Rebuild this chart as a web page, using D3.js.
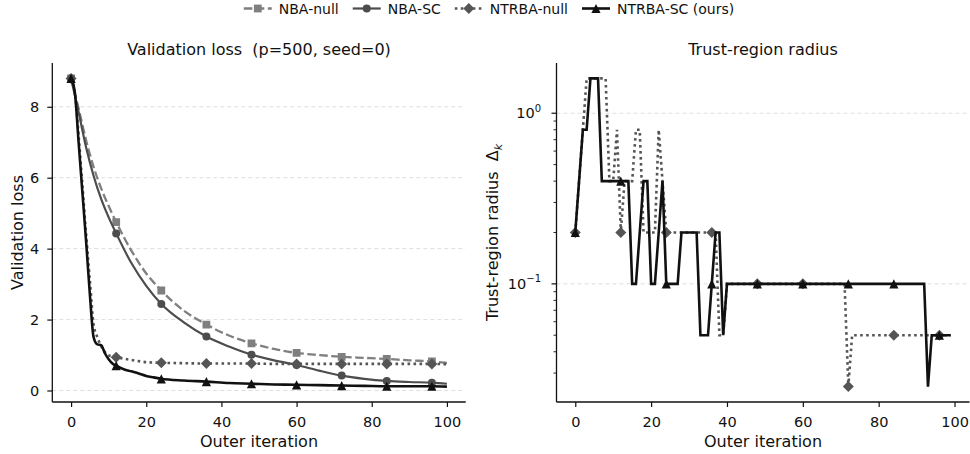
<!DOCTYPE html>
<html><head><meta charset="utf-8">
<script src="https://cdn.jsdelivr.net/npm/d3@7"></script>
<style>
html,body{margin:0;padding:0;background:#fff;}
svg{display:block;}
text{font-family:"DejaVu Sans",sans-serif;fill:#111;white-space:pre;}
</style></head>
<body><svg id="chart" width="970" height="454"></svg>
<script>
// ---------------- data ----------------
const seriesNames = ["NBA-null", "NBA-SC", "NTRBA-null", "NTRBA-SC (ours)"];

// Left panel: validation loss vs outer iteration
const nbaIter = [0,2,4,6,8,10,12,16,20,24,30,36,42,48,54,60,66,72,78,84,90,96,100];
const nbaNullLoss = [8.8,7.95,7.05,6.3,5.7,5.2,4.75,3.95,3.3,2.82,2.25,1.86,1.55,1.33,1.17,1.06,1.0,0.95,0.92,0.89,0.85,0.82,0.78];
const nbaScLoss   = [8.8,7.85,6.85,6.05,5.4,4.88,4.43,3.6,2.95,2.44,1.92,1.52,1.24,1.01,0.85,0.72,0.56,0.42,0.33,0.27,0.24,0.22,0.19];
const ntrbaNullIter = [0,1,2,3,4,5,6,7,8,9,10,11,12,16,20,24,30,36,42,48,54,60,66,72,78,84,90,96,100];
const ntrbaNullLoss = [8.8,8.4,7.2,5.8,4.4,3.1,1.85,1.5,1.25,1.08,0.99,0.96,0.94,0.86,0.8,0.78,0.77,0.76,0.76,0.76,0.75,0.75,0.75,0.75,0.75,0.75,0.75,0.75,0.74];
const ntrbaScIter = [0,1,2,3,4,5,6,7,8,9,10,11,12,14,16,18,20,22,24,30,36,42,48,54,60,66,72,78,84,90,96,100];
const ntrbaScLoss = [8.8,8.4,7.0,5.6,4.2,2.7,1.5,1.3,1.28,1.05,0.88,0.76,0.7,0.6,0.54,0.48,0.41,0.37,0.33,0.28,0.25,0.21,0.19,0.17,0.16,0.15,0.14,0.13,0.12,0.12,0.12,0.11];

// Right panel: trust-region radius per outer iteration (0..99)
const radiusIter = d3.range(0, 100);
const ntrbaNullRadius = [
  0.2,0.4,0.8,1.6,1.6,1.6,1.6,1.6,1.6,0.4,
  0.4,0.8,0.2,0.4,0.4,0.4,0.8,0.8,0.2,0.2,
  0.2,0.2,0.8,0.4,0.2,0.2,0.2,0.2,0.2,0.2,
  0.2,0.2,0.2,0.2,0.2,0.2,0.2,0.2,0.05,0.05,
  0.1,0.1,0.1,0.1,0.1,0.1,0.1,0.1,0.1,0.1,
  0.1,0.1,0.1,0.1,0.1,0.1,0.1,0.1,0.1,0.1,
  0.1,0.1,0.1,0.1,0.1,0.1,0.1,0.1,0.1,0.1,
  0.1,0.1,0.025,0.05,0.05,0.05,0.05,0.05,0.05,0.05,
  0.05,0.05,0.05,0.05,0.05,0.05,0.05,0.05,0.05,0.05,
  0.05,0.05,0.05,0.05,0.05,0.05,0.05,0.05,0.05,0.05
];
const ntrbaScRadius = [
  0.2,0.4,0.8,0.8,1.6,1.6,1.6,0.4,0.4,0.4,
  0.4,0.4,0.4,0.4,0.4,0.1,0.1,0.2,0.4,0.4,
  0.1,0.1,0.2,0.4,0.1,0.1,0.1,0.1,0.2,0.2,
  0.2,0.2,0.2,0.05,0.05,0.05,0.1,0.2,0.2,0.05,
  0.1,0.1,0.1,0.1,0.1,0.1,0.1,0.1,0.1,0.1,
  0.1,0.1,0.1,0.1,0.1,0.1,0.1,0.1,0.1,0.1,
  0.1,0.1,0.1,0.1,0.1,0.1,0.1,0.1,0.1,0.1,
  0.1,0.1,0.1,0.1,0.1,0.1,0.1,0.1,0.1,0.1,
  0.1,0.1,0.1,0.1,0.1,0.1,0.1,0.1,0.1,0.1,
  0.1,0.1,0.1,0.025,0.05,0.05,0.05,0.05,0.05,0.05
];

const lossTicks = [0,2,4,6,8];
const iterTicks = [0,20,40,60,80,100];
const radiusMajorTicks = [0.1, 1];
const radiusMajorLabels = [["10","\u22121"],["10","0"]];
const radiusMinorTicks = [0.03,0.04,0.05,0.06,0.07,0.08,0.09,0.2,0.3,0.4,0.5,0.6,0.7,0.8,0.9];
const markerEvery = 12;

// ---------------- styles ----------------
const styles = {
  "NBA-null":        {color:"#7f7f7f", width:2.3, dash:"8.5,3.5", marker:"square"},
  "NBA-SC":          {color:"#4d4d4d", width:2.2, dash:null,      marker:"circle"},
  "NTRBA-null":      {color:"#555555", width:2.6, dash:"2.6,3.4", marker:"diamond"},
  "NTRBA-SC (ours)": {color:"#111111", width:2.6, dash:null,      marker:"triangle"}
};
const TICK_FS = 14.5, LABEL_FS = 16, TITLE_FS = 16, LEGEND_FS = 14;

function markerPath(shape){
  switch(shape){
    case "square":  { const s=3.9; return `M${-s},${-s}H${s}V${s}H${-s}Z`; }
    case "circle":  { const r=4.0; return `M${r},0A${r},${r} 0 1,1 ${-r},0A${r},${r} 0 1,1 ${r},0Z`; }
    case "diamond": { const d=5.5; return `M0,${-d}L${d},0L0,${d}L${-d},0Z`; }
    case "triangle":{ const h=4.6; return `M0,${-h}L${h},${h}L${-h},${h}Z`; }
  }
}

const svg = d3.select("#chart");
const plotTop = 63, plotBottom = 402;

function pad(lo, hi){ const p = (hi-lo)*0.05; return [lo-p, hi+p]; }

// ---------------- left panel ----------------
(function(){
  const x0 = 52.3, x1 = 465.7;
  const allLoss = nbaNullLoss.concat(nbaScLoss, ntrbaNullLoss, ntrbaScLoss);
  const x = d3.scaleLinear().domain(pad(0,100)).range([x0,x1]);
  const y = d3.scaleLinear().domain(pad(d3.min(allLoss), d3.max(allLoss))).range([plotBottom, plotTop]);
  const g = svg.append("g");
  g.append("clipPath").attr("id","clipL").append("rect")
    .attr("x",x0).attr("y",plotTop).attr("width",x1-x0).attr("height",plotBottom-plotTop);

  // grid
  g.append("g").selectAll("line").data(lossTicks).join("line")
    .attr("x1",x0).attr("x2",x1).attr("y1",d=>y(d)).attr("y2",d=>y(d))
    .attr("stroke","#d6d6d6").attr("stroke-width",0.8).attr("stroke-dasharray","4,3");

  const series = [
    {name:"NBA-null", it:nbaIter, v:nbaNullLoss},
    {name:"NBA-SC", it:nbaIter, v:nbaScLoss},
    {name:"NTRBA-null", it:ntrbaNullIter, v:ntrbaNullLoss},
    {name:"NTRBA-SC (ours)", it:ntrbaScIter, v:ntrbaScLoss}
  ];
  const line = d3.line().x(d=>x(d[0])).y(d=>y(d[1])).curve(d3.curveMonotoneX);
  const lg = g.append("g").attr("clip-path","url(#clipL)");
  series.forEach(s=>{
    const st = styles[s.name];
    const pts = s.it.map((t,i)=>[t, s.v[i]]);
    lg.append("path").attr("d", line(pts)).attr("fill","none")
      .attr("stroke",st.color).attr("stroke-width",st.width)
      .attr("stroke-dasharray",st.dash).attr("stroke-linejoin","round");
    lg.append("g").selectAll("path").data(pts.filter(p=>p[0]%markerEvery===0)).join("path")
      .attr("d", markerPath(st.marker))
      .attr("transform", p=>`translate(${x(p[0])},${y(p[1])})`)
      .attr("fill", st.color);
  });

  // spines
  g.append("line").attr("x1",x0).attr("x2",x0).attr("y1",plotTop).attr("y2",plotBottom).attr("stroke","#111").attr("stroke-width",1.3);
  g.append("line").attr("x1",x0).attr("x2",x1).attr("y1",plotBottom).attr("y2",plotBottom).attr("stroke","#111").attr("stroke-width",1.3);

  // axes
  const xa = g.append("g").attr("transform",`translate(0,${plotBottom})`)
    .call(d3.axisBottom(x).tickValues(iterTicks).tickSize(5).tickPadding(9.5).tickFormat(d3.format("d")));
  const ya = g.append("g").attr("transform",`translate(${x0},0)`)
    .call(d3.axisLeft(y).tickValues(lossTicks).tickSize(5).tickPadding(8).tickFormat(d3.format("d")));
  [xa,ya].forEach(a=>{
    a.select(".domain").remove();
    a.selectAll(".tick line").attr("stroke","#111").attr("stroke-width",1.2);
    a.selectAll(".tick text").attr("font-size",TICK_FS).attr("font-family","DejaVu Sans").attr("fill","#111");
  });

  g.append("text").attr("x",(x0+x1)/2).attr("y",446.5).attr("text-anchor","middle")
    .attr("font-size",LABEL_FS).text("Outer iteration");
  g.append("text").attr("transform",`translate(23,${(plotTop+plotBottom)/2}) rotate(-90)`)
    .attr("text-anchor","middle").attr("font-size",LABEL_FS).text("Validation loss");
  g.append("text").attr("x",(x0+x1)/2).attr("y",54.5).attr("text-anchor","middle")
    .attr("font-size",TITLE_FS).text("Validation loss  (p=500, seed=0)");
})();

// ---------------- right panel ----------------
(function(){
  const x0 = 556.5, x1 = 969.5;
  const allR = ntrbaNullRadius.concat(ntrbaScRadius);
  const lp = pad(Math.log10(d3.min(allR)), Math.log10(d3.max(allR)));
  const x = d3.scaleLinear().domain(pad(0, d3.max(radiusIter))).range([x0,x1]);
  const y = d3.scaleLog().domain([Math.pow(10,lp[0]), Math.pow(10,lp[1])]).range([plotBottom, plotTop]);
  const g = svg.append("g");
  g.append("clipPath").attr("id","clipR").append("rect")
    .attr("x",x0).attr("y",plotTop).attr("width",x1-x0).attr("height",plotBottom-plotTop);

  g.append("g").selectAll("line").data(radiusMajorTicks).join("line")
    .attr("x1",x0).attr("x2",x1).attr("y1",d=>y(d)).attr("y2",d=>y(d))
    .attr("stroke","#d6d6d6").attr("stroke-width",0.8).attr("stroke-dasharray","4,3");

  const series = [
    {name:"NTRBA-null", v:ntrbaNullRadius},
    {name:"NTRBA-SC (ours)", v:ntrbaScRadius}
  ];
  const line = d3.line().x(d=>x(d[0])).y(d=>y(d[1]));
  const lg = g.append("g").attr("clip-path","url(#clipR)");
  series.forEach(s=>{
    const st = styles[s.name];
    const pts = radiusIter.map((t,i)=>[t, s.v[i]]);
    lg.append("path").attr("d", line(pts)).attr("fill","none")
      .attr("stroke",st.color).attr("stroke-width",st.width)
      .attr("stroke-dasharray",st.dash).attr("stroke-linejoin","miter");
    lg.append("g").selectAll("path").data(pts.filter(p=>p[0]%markerEvery===0)).join("path")
      .attr("d", markerPath(st.marker))
      .attr("transform", p=>`translate(${x(p[0])},${y(p[1])})`)
      .attr("fill", st.color);
  });

  g.append("line").attr("x1",x0).attr("x2",x0).attr("y1",plotTop).attr("y2",plotBottom).attr("stroke","#111").attr("stroke-width",1.3);
  g.append("line").attr("x1",x0).attr("x2",x1).attr("y1",plotBottom).attr("y2",plotBottom).attr("stroke","#111").attr("stroke-width",1.3);

  const xa = g.append("g").attr("transform",`translate(0,${plotBottom})`)
    .call(d3.axisBottom(x).tickValues(iterTicks).tickSize(5).tickPadding(9.5).tickFormat(d3.format("d")));
  xa.select(".domain").remove();
  xa.selectAll(".tick line").attr("stroke","#111").attr("stroke-width",1.2);
  xa.selectAll(".tick text").attr("font-size",TICK_FS).attr("font-family","DejaVu Sans").attr("fill","#111");

  // y ticks (log)
  g.append("g").selectAll("line").data(radiusMinorTicks).join("line")
    .attr("x1",x0-3).attr("x2",x0).attr("y1",d=>y(d)).attr("y2",d=>y(d))
    .attr("stroke","#111").attr("stroke-width",0.9);
  g.append("g").selectAll("line").data(radiusMajorTicks).join("line")
    .attr("x1",x0-5).attr("x2",x0).attr("y1",d=>y(d)).attr("y2",d=>y(d))
    .attr("stroke","#111").attr("stroke-width",1.2);
  const tl = g.append("g").selectAll("text").data(radiusMajorTicks).join("text")
    .attr("x", x0-15.5).attr("y", d=>y(d)+5).attr("text-anchor","end").attr("font-size",TICK_FS);
  tl.append("tspan").text((d,i)=>radiusMajorLabels[i][0]);
  tl.append("tspan").attr("dy",-6.6).attr("font-size",10).text((d,i)=>radiusMajorLabels[i][1]);

  g.append("text").attr("x",(x0+x1)/2).attr("y",446.5).attr("text-anchor","middle")
    .attr("font-size",LABEL_FS).text("Outer iteration");
  const yl = g.append("text").attr("transform",`translate(498,${(plotTop+plotBottom)/2}) rotate(-90)`)
    .attr("text-anchor","middle").attr("font-size",LABEL_FS);
  yl.append("tspan").text("Trust-region radius  \u0394");
  yl.append("tspan").attr("dy",3.5).attr("font-size",11).attr("font-style","italic").text("k");
  g.append("text").attr("x",(x0+x1)/2).attr("y",54.5).attr("text-anchor","middle")
    .attr("font-size",TITLE_FS).text("Trust-region radius");
})();

// ---------------- legend ----------------
(function(){
  const handleLen = 28, handlePad = 7, colSpace = 14, cy = 8.5, baseline = 13.5, centerX = 489;
  const lg = svg.append("g");
  const items = seriesNames.map(n=>{
    const it = lg.append("g");
    const st = styles[n];
    it.append("line").attr("x1",0).attr("x2",handleLen).attr("y1",cy).attr("y2",cy)
      .attr("stroke",st.color).attr("stroke-width",st.width).attr("stroke-dasharray",st.dash);
    it.append("path").attr("d",markerPath(st.marker)).attr("transform",`translate(${handleLen/2},${cy})`).attr("fill",st.color);
    const t = it.append("text").attr("x",handleLen+handlePad).attr("y",baseline).attr("font-size",LEGEND_FS).text(n);
    return {g:it, w: handleLen+handlePad+t.node().getComputedTextLength()};
  });
  const total = d3.sum(items,d=>d.w) + colSpace*(items.length-1);
  let cx = centerX - total/2;
  items.forEach(d=>{ d.g.attr("transform",`translate(${cx},0)`); cx += d.w + colSpace; });
})();
</script>
</body></html>
